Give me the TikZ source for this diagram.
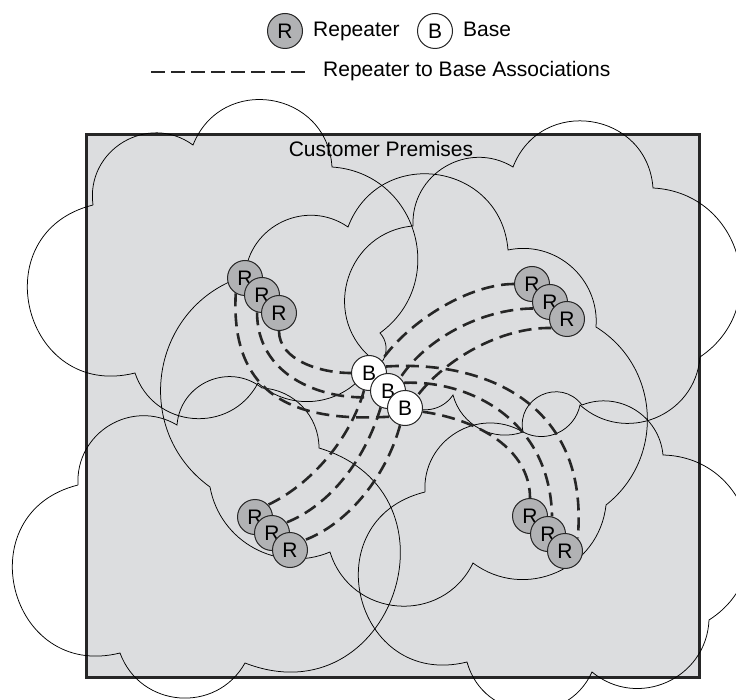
\documentclass[tikz,border=0pt]{standalone}
\usepackage{fontspec}
\setmainfont{Liberation Sans}
\pgfdeclarelayer{back}
\pgfdeclarelayer{mid}
\pgfsetlayers{back,mid,main}
\definecolor{premises}{RGB}{220,221,223}
\definecolor{repfill}{RGB}{177,178,180}
\definecolor{ink}{RGB}{38,38,38}
\tikzset{
  % one puff of a cloud: circular-looking arc whose depth is #1 times its chord
  bmp/.code={%
    \pgfmathsetmacro\bmpang{2*atan(2*(#1))}%
    \pgfmathsetmacro\bmploose{0.8515*(1+4*(#1)*(#1))}%
    \edef\bmptmp{\noexpand\pgfkeysalso{/tikz/bend left=\bmpang,/tikz/looseness=\bmploose}}%
    \bmptmp},
  cloudline/.style={draw=black, line width=0.75pt},
  assoc/.style={draw=ink, line width=2.6pt, dash pattern=on 13pt off 7pt},
  station/.style={circle, draw=ink, line width=1pt, minimum size=35pt, inner sep=0pt,
                  font=\fontsize{21}{21}\selectfont},
  repeater/.style={station, fill=repfill},
  base/.style={station, fill=white},
  txt/.style={inner sep=0pt, font=\fontsize{21}{25}\selectfont},
}
\begin{document}
\begin{tikzpicture}[x=1pt,y=1pt]
\useasboundingbox (0,0) rectangle (736,-700);

% page, premises and coverage clouds
\begin{pgfonlayer}{back}
\fill[white] (0,0) rectangle (736,-700);
\node[draw=ink, fill=premises, line width=2.6pt, minimum width=613pt, minimum height=543pt,
      inner sep=0pt, anchor=north west] (prem) at (85,-133) {};
% repeater cloud, upper left
\draw[cloudline] (93,-205) to[bmp=.33] (193,-145) to[bmp=.4] (332,-167) to[bmp=.35] (380,-333)
  to[bmp=.3] (366,-372) to[bmp=.22] (258,-383) to[bmp=.33] (135,-373) to[bmp=.5] (93,-205);
% repeater cloud, upper right
\draw[cloudline] (370,-357) to[bmp=.33] (413,-226) to[bmp=.3] (513,-167) to[bmp=.4] (653,-188)
  to[bmp=.36] (700,-357) to[bmp=.31] (580,-405) to[bmp=.25] (523,-432) to[bmp=.22] (453,-395)
  to[bmp=.2] (408,-405) to[bmp=.3] (370,-357);
% repeater cloud, lower left
\draw[cloudline] (78,-485) to[bmp=.3] (177,-425) to[bmp=.3] (262,-388) to[bmp=.2] (319,-448)
  to[bmp=.52] (245,-663) to[bmp=.32] (120,-653) to[bmp=.5] (78,-485);
% repeater cloud, lower right
\draw[cloudline] (425,-492) to[bmp=.3] (523,-432) to[bmp=.4] (582,-405) to[bmp=.25] (663,-455)
  to[bmp=.37] (709,-620) to[bmp=.31] (592,-672) to[bmp=.35] (467,-662) to[bmp=.5] (425,-492);
% base cloud
\draw[cloudline] (245,-276) to[bmp=.29] (348,-227) to[bmp=.4] (508,-250) to[bmp=.25] (596,-327)
  to[bmp=.26] (606,-505) to[bmp=.29] (473,-563) to[bmp=.34] (330,-552) to[bmp=.24] (210,-487)
  to[bmp=.31] (245,-276);
\end{pgfonlayer}

\node[txt, anchor=base] (premlabel) at (381,-157) {Customer Premises};

% legend
\node[repeater] (legR) at (285,-31) {R};
\node[txt, anchor=base west] (legRtxt) at (313,-37) {Repeater};
\node[base] (legB) at (435,-31) {B};
\node[txt, anchor=base west] (legBtxt) at (463,-37) {Base};
\coordinate (dashA) at (151,-72);
\coordinate (dashB) at (307,-72);
\draw[assoc, dash pattern=on 14pt off 6pt] (dashA) -- (dashB);
\node[txt, anchor=base west] (legAtxt) at (323,-77) {Repeater to Base Associations};

% repeaters
\node[repeater] (Rtl1) at (245,-278) {R};
\node[repeater] (Rtl2) at (262,-295) {R};
\node[repeater] (Rtl3) at (279,-313) {R};
\node[repeater] (Rtr1) at (532,-284) {R};
\node[repeater] (Rtr2) at (550,-302) {R};
\node[repeater] (Rtr3) at (567,-319) {R};
\node[repeater] (Rbl1) at (255,-517) {R};
\node[repeater] (Rbl2) at (272,-533) {R};
\node[repeater] (Rbl3) at (290,-550) {R};
\node[repeater] (Rbr1) at (530,-516) {R};
\node[repeater] (Rbr2) at (548,-534) {R};
\node[repeater] (Rbr3) at (565,-551) {R};
% bases
\node[base] (B1) at (369,-373) {B};
\node[base] (B2) at (388,-391) {B};
\node[base] (B3) at (405,-408) {B};

% associations
\begin{pgfonlayer}{mid}
\draw[assoc] (Rtl3.-90)  .. controls (279,-360) and (320,-373) .. (B1.180);
\draw[assoc] (Rtl2.-106) .. controls (257,-375) and (320,-400) .. (B2.200);
\draw[assoc] (Rtl1.-121) .. controls (230,-400) and (300,-422) .. (B3.209);
\draw[assoc] (Rtr1.180)  .. controls (470,-284) and (410,-320) .. (B1.45);
\draw[assoc] (Rtr2.201)  .. controls (480,-309) and (425,-340) .. (B2.47);
\draw[assoc] (Rtr3.210)  .. controls (500,-327) and (445,-360) .. (B3.45);
\draw[assoc] (B3.-12) .. controls (480,-420) and (530,-450) .. (Rbr1.90);
\draw[assoc] (B2.27)  .. controls (470,-380) and (550,-420) .. (Rbr2.77);
\draw[assoc] (B1.21)  .. controls (480,-360) and (590,-400) .. (Rbr3.45);
\draw[assoc] (B1.-106) .. controls (350,-440) and (310,-485) .. (Rbl1.43);
\draw[assoc] (B2.-114) .. controls (365,-460) and (330,-505) .. (Rbl2.36);
\draw[assoc] (B3.-106) .. controls (385,-480) and (345,-525) .. (Rbl3.34);
\end{pgfonlayer}
\end{tikzpicture}
\end{document}
